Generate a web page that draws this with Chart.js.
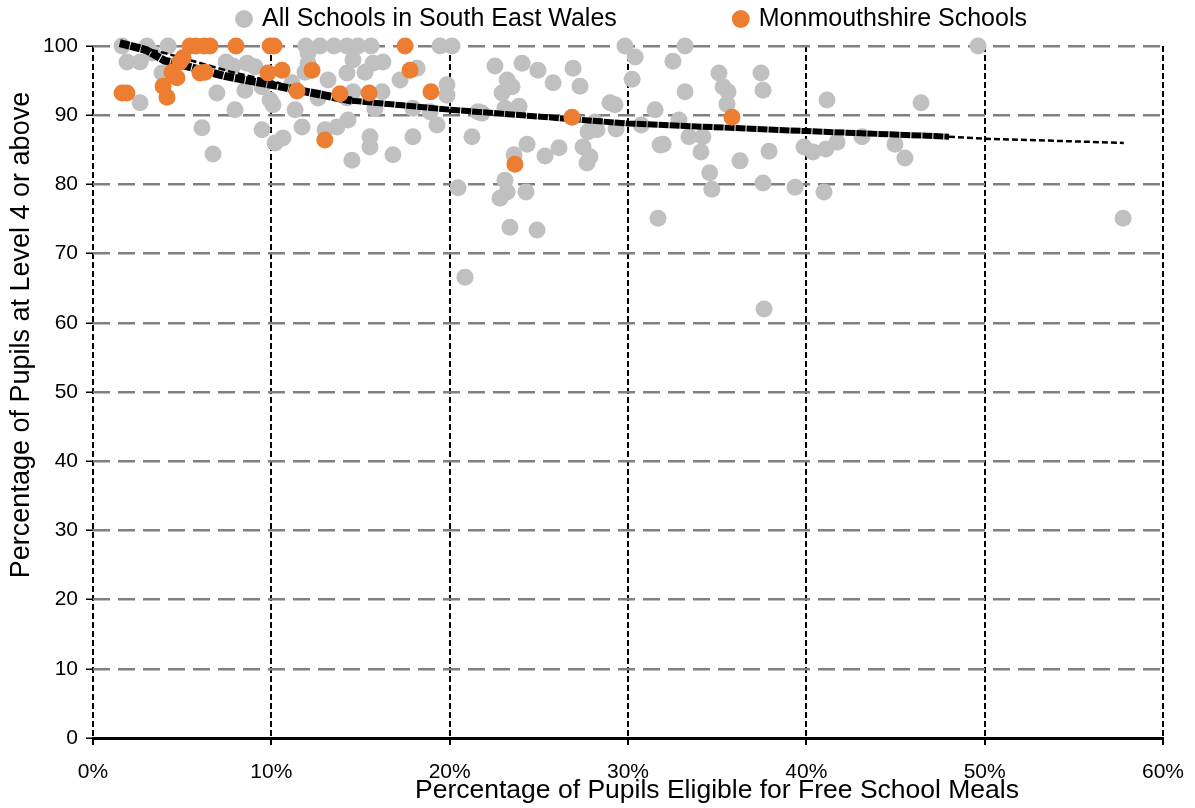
<!DOCTYPE html>
<html>
<head>
<meta charset="utf-8">
<script src="https://cdn.jsdelivr.net/npm/chart.js@4/dist/chart.umd.min.js"></script>
<style>
  html, body { margin: 0; padding: 0; background: #fff; }
</style>
</head>
<body>
<canvas id="chart" width="1195" height="808"></canvas>
<script>
// All schools in South East Wales (FSM %, % at Level 4+)
const allX = [1.63, 3.03, 4.21, 11.94, 12.73, 13.51, 14.24, 14.86, 15.59, 19.46, 20.13, 29.83, 33.2, 49.63,
  1.91, 2.64, 3.31, 3.87, 2.64, 6.95, 6.11, 6.73, 7.85, 8.64, 9.09, 9.48, 8.52, 7.96, 9.48, 10.21, 10.65,
  9.93, 10.09, 11.33, 11.72, 11.16, 12.06, 12.06, 11.89, 13.18, 14.24, 12.62, 14.24, 13.01, 13.68, 14.3,
  14.58, 15.7, 16.26, 15.25, 17.22, 18.17, 14.58, 16.21, 19.85, 19.85, 15.81, 17.94, 18.9, 21.59, 15.53,
  15.53, 17.94, 16.82, 19.29, 21.25, 14.52, 22.54, 24.06, 24.95, 26.92, 25.8, 27.31, 23.22, 23.5, 22.94,
  23.1, 23.89, 21.81, 24.34, 23.61, 25.35, 26.13, 27.48, 27.87, 27.7, 28.15, 27.76, 28.26, 28.99, 29.27,
  29.33, 30.4, 30.23, 30.74, 31.52, 31.8, 23.1, 23.22, 22.82, 24.28, 20.47, 23.38, 24.9, 20.86, 32.52,
  35.1, 35.33, 35.61, 35.55, 37.46, 37.57, 41.16, 33.2, 32.86, 31.97, 33.42, 34.2, 34.09, 36.28, 37.91,
  39.87, 40.37, 41.1, 41.72, 43.12, 34.58, 34.7, 37.57, 39.37, 40.99, 31.68, 37.63, 46.43, 44.97, 45.53,
  57.76, 7.46];
const allY = [100, 100, 100, 100, 100, 100, 100, 100, 100, 100, 100, 100, 100, 100,
  97.7, 97.7, 99.0, 96.1, 91.8, 93.2, 88.2, 84.4, 97.1, 97.5, 97.0, 94.1, 93.6, 90.8, 87.9, 86.0, 86.7,
  92.2, 91.5, 90.8, 88.3, 94.7, 99.0, 97.5, 96.2, 95.1, 96.1, 92.5, 92.5, 87.9, 88.3, 89.3,
  98.0, 97.5, 97.7, 96.2, 95.1, 96.8, 93.4, 93.4, 94.4, 92.9, 91.0, 91.0, 90.5, 90.5, 86.9,
  85.4, 86.9, 84.3, 88.6, 86.9, 83.5, 97.1, 97.5, 96.5, 96.8, 94.7, 94.2, 95.1, 94.1, 93.2,
  91.0, 91.3, 90.3, 85.8, 84.3, 84.1, 85.3, 85.4, 84.0, 83.1, 89.0, 87.6, 87.9, 91.8, 91.5,
  88.0, 98.4, 95.2, 88.6, 90.8, 85.7, 80.6, 78.9, 78.0, 78.9, 79.5, 73.8, 73.4, 66.6, 97.8,
  96.1, 94.1, 93.4, 91.6, 96.1, 93.6, 92.2, 93.4, 89.3, 85.8, 86.9, 86.9, 84.7, 83.4, 84.8,
  85.4, 84.7, 85.1, 86.1, 86.9, 81.7, 79.3, 80.2, 79.6, 78.9, 75.1, 62.0, 91.8, 85.8, 83.8,
  75.1, 97.7];

// Monmouthshire schools
const monX = [1.63, 1.9, 3.93, 4.15, 4.43, 4.71, 4.88, 5.05, 5.44, 5.78, 6.22, 6.56, 6.0, 6.28, 8.02,
  9.81, 9.93, 10.15, 10.6, 11.44, 12.28, 13.0, 13.85, 15.48, 17.5, 17.78, 18.95, 23.66, 26.86, 35.83];
const monY = [93.2, 93.2, 94.2, 92.6, 96.2, 95.4, 97.7, 98.3, 100, 100, 100, 100, 96.1, 96.2, 100,
  96.1, 100, 100, 96.5, 93.5, 96.5, 86.4, 93.1, 93.2, 100, 96.5, 93.4, 82.9, 89.7, 89.7];

// trend line as drawn in the picture
const trendX = [1.5, 3, 4, 7.5, 10, 14.5, 20, 30, 40, 48, 50, 57.8];
const trendY = [100.4, 99.4, 97.9, 95.6, 94.4, 92.1, 90.8, 88.8, 87.7, 86.9, 86.6, 86.0];
const upperX = [1.6, 4, 7.7, 10.5];
const upperY = [100.3, 99.0, 96.3, 94.6];

const xTicks = [0, 10, 20, 30, 40, 50, 60];
const yTicks = [0, 10, 20, 30, 40, 50, 60, 70, 80, 90, 100];

const FONT = '"Liberation Sans", Arial, sans-serif';
const pts = (xs, ys) => xs.map((x, i) => ({ x, y: ys[i] }));

const legendItems = [
  { label: 'All Schools in South East Wales', color: '#c0c0c0' },
  { label: 'Monmouthshire Schools', color: '#ed7d31' },
];

// legend + axis titles, placed like the original
const textPlugin = {
  id: 'textPlugin',
  afterDraw(chart) {
    const { ctx } = chart;
    ctx.save();
    ctx.fillStyle = '#000';
    ctx.textBaseline = 'middle';

    ctx.font = '25px ' + FONT;
    const r = 9, gap = 9, spacing = 115;
    const widths = legendItems.map(it => r * 2 + gap + ctx.measureText(it.label).width);
    let x = 235;
    legendItems.forEach((it, i) => {
      ctx.fillStyle = it.color;
      ctx.beginPath();
      ctx.arc(x + r, 19, r, 0, Math.PI * 2);
      ctx.fill();
      ctx.fillStyle = '#000';
      ctx.textAlign = 'left';
      ctx.fillText(it.label, x + r * 2 + gap, 19);
      x += widths[i] + spacing;
    });

    ctx.font = '26.5px ' + FONT;
    ctx.textAlign = 'center';
    ctx.fillText('Percentage of Pupils Eligible for Free School Meals', 717, 791);

    ctx.font = '27px ' + FONT;
    ctx.translate(22, 335);
    ctx.rotate(-Math.PI / 2);
    ctx.fillText('Percentage of Pupils at Level 4 or above', 0, 0);
    ctx.restore();
  }
};

new Chart(document.getElementById('chart'), {
  type: 'scatter',
  data: {
    datasets: [
      {
        label: 'Monmouthshire Schools',
        data: pts(monX, monY),
        backgroundColor: '#ed7d31',
        borderWidth: 0,
        pointRadius: 8.5,
        clip: false,
        order: 0,
      },
      {
        label: 'trend',
        data: pts(trendX, trendY),
        showLine: true,
        borderColor: '#000',
        pointRadius: 0,
        borderWidth: 2,
        clip: false,
        segment: {
          borderWidth: c => c.p0.parsed.x < 14 ? 8 : c.p0.parsed.x < 47 ? 6 : 2.5,
          borderDash: c => c.p0.parsed.x < 47 ? [10, 1] : [6, 3],
        },
        order: 1,
      },
      {
        label: 'trend upper',
        data: pts(upperX, upperY),
        showLine: true,
        borderColor: '#000',
        borderWidth: 2.5,
        borderDash: [7, 3],
        pointRadius: 0,
        clip: false,
        order: 1,
      },
      {
        label: 'All Schools in South East Wales',
        data: pts(allX, allY),
        backgroundColor: '#c0c0c0',
        borderWidth: 0,
        pointRadius: 8.5,
        clip: false,
        order: 2,
      },
    ]
  },
  options: {
    responsive: false,
    animation: false,
    layout: { padding: { top: 46, right: 32, left: 0, bottom: 0 } },
    plugins: { legend: { display: false }, tooltip: { enabled: false } },
    scales: {
      x: {
        min: 0, max: 60,
        afterBuildTicks: s => { s.ticks = xTicks.map(v => ({ value: v })); },
        afterFit: s => { s.height = 70; s.paddingLeft = 0; s.paddingRight = 0; },
        ticks: { callback: v => v + '%', font: { family: FONT, size: 21 }, color: '#000', padding: 15, maxRotation: 0 },
        grid: { color: '#000', lineWidth: 2, tickLength: 7, tickColor: '#000', tickWidth: 2 },
        border: { display: true, color: '#000', width: 3, dash: [6, 3] },
      },
      y: {
        min: 0, max: 100,
        afterBuildTicks: s => { s.ticks = yTicks.map(v => ({ value: v })); },
        afterFit: s => { s.width = 93; },
        ticks: { font: { family: FONT, size: 21 }, color: '#000', padding: 8 },
        grid: { color: '#808080', lineWidth: 2.5, tickLength: 7, tickColor: '#000', tickWidth: 1.5 },
        border: { display: false, dash: [17, 8] },
      }
    }
  },
  plugins: [textPlugin]
});
</script>
</body>
</html>
